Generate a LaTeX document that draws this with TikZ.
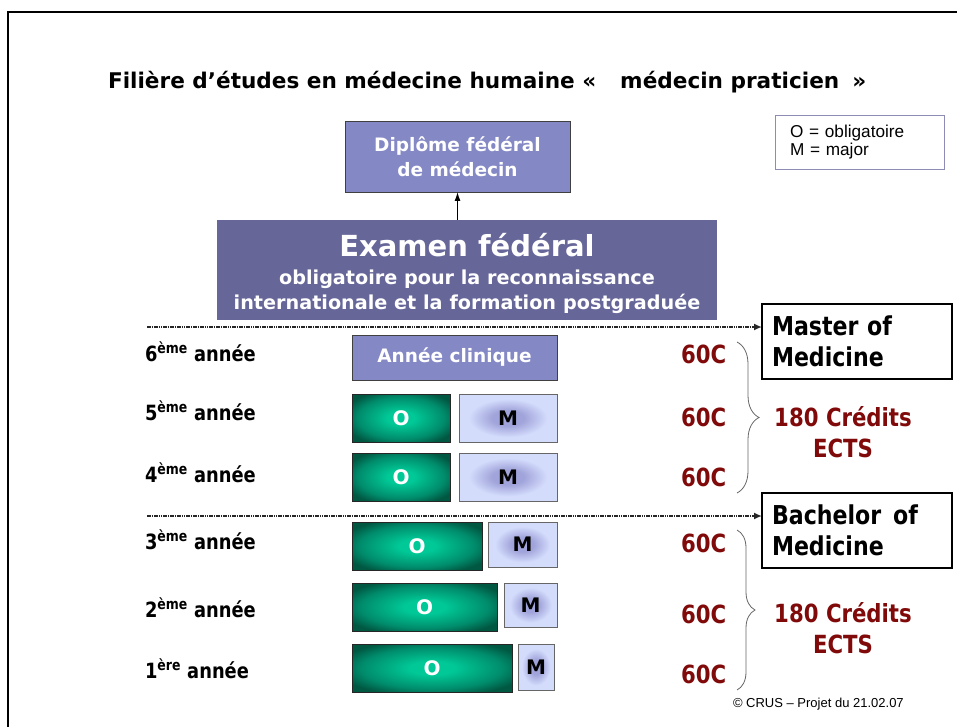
\documentclass[tikz,border=0pt]{standalone}
\usepackage{fontspec}
\setmainfont{DejaVu Sans}
\newfontfamily\arialfont{Liberation Sans}
\newfontfamily\narrowfont{DejaVu Sans}[FakeStretch=0.85]
\usetikzlibrary{arrows.meta,decorations.pathreplacing}

\definecolor{lavbox}{RGB}{132,136,196}
\definecolor{exambox}{RGB}{103,102,153}
\definecolor{credred}{RGB}{128,10,10}
\definecolor{ogreendark}{RGB}{0,88,66}
\definecolor{ogreenmid}{RGB}{0,140,108}
\definecolor{ogreenlight}{RGB}{0,200,150}
\definecolor{mlavdark}{RGB}{160,164,218}
\definecolor{mlavlight}{RGB}{212,220,252}
\definecolor{legendline}{RGB}{140,140,180}

\pgfdeclareradialshading{oglow}{\pgfpoint{0bp}{0bp}}{color(0bp)=(ogreenlight); color(7bp)=(ogreenlight);
  color(22bp)=(ogreenmid); color(30bp)=(ogreendark); color(50bp)=(ogreendark)}
\pgfdeclareradialshading{mglow}{\pgfpoint{0bp}{0bp}}{color(0bp)=(mlavdark); color(8bp)=(mlavdark);
  color(20bp)=(mlavlight); color(50bp)=(mlavlight)}

\begin{document}
\begin{tikzpicture}[x=1pt,y=-1pt,inner sep=0pt,outer sep=0pt,
                    lav box/.style={draw=black!75,fill=lavbox,text=white,align=center,anchor=north west,
                                    font=\bfseries\fontsize{18.5}{25}\selectfont},
                    o box/.style={draw=black!85,shading=oglow,text=white,
                                  anchor=north west,minimum height=48pt,font=\bfseries\fontsize{20}{20}\selectfont},
                    m box/.style={draw=black!60,shading=mglow,
                                  anchor=north west,font=\bfseries\fontsize{20}{20}\selectfont},
                    year/.style={anchor=base west,font=\narrowfont\bfseries\fontsize{21}{24}\selectfont},
                    credit/.style={anchor=base west,text=credred,font=\narrowfont\bfseries\fontsize{25}{26}\selectfont},
                    ects/.style={text=credred,align=center,font=\narrowfont\bfseries\fontsize{25}{31}\selectfont},
                    degree box/.style={draw=black,line width=1.2pt,fill=white,anchor=north west,
                                       text width=170pt,align=left,inner xsep=10pt,
                                       font=\narrowfont\bfseries\fontsize{26}{31}\selectfont},
                    dotted arrow/.style={-{Latex[length=8pt,width=7pt]},line width=2pt,black!85,
                                         dash pattern=on 1.6pt off 0.7pt},
                    credit brace/.style={decorate,draw=black!60,line width=0.8pt}]
\useasboundingbox (0,0) rectangle (957,727);
\draw[line width=2.5pt] (8,740) -- (8,12) -- (970,12);

% title and legend
\node[anchor=base west,font=\bfseries\fontsize{21.6}{24}\selectfont] (title) at (108,89)
  {Filière d’études en médecine humaine «\hspace{24pt}médecin praticien\hspace{13pt}»};
\node[draw=legendline,line width=0.8pt,anchor=north west,minimum width=169pt,minimum height=54pt,
      text width=139pt,align=left,font=\arialfont\fontsize{17.2}{18.5}\selectfont] (legend) at (775,115)
  {O = obligatoire\\M = major};

% diploma and exam
\node[lav box,minimum width=225pt,minimum height=71pt] (dipl) at (345,121) {Diplôme fédéral\\de médecin};
\node[fill=exambox,text=white,align=center,anchor=north west,minimum width=500pt,minimum height=100pt,
      font=\bfseries\fontsize{19.2}{25}\selectfont] (exam) at (217,220)
  {\rule{0pt}{31pt}{\fontsize{29}{30}\selectfont Examen fédéral}\\[3pt]
   obligatoire pour la reconnaissance\\
   internationale et la\hspace{7pt}formation\hspace{7pt}postgraduée};
\draw[-{Latex[length=9pt,width=6pt]},line width=1.2pt] (dipl.south |- exam.north) -- (dipl.south);

% degrees
\node[degree box,minimum width=189pt,minimum height=75pt] (master) at (762,304) {Master of\\Medicine};
\node[degree box,minimum width=181pt,minimum height=75pt] (bachelor) at (762,493) {Bachelor\hspace{12pt}of\\Medicine};
\coordinate (mstart) at (147,327);
\coordinate (bstart) at (147,516);
\draw[dotted arrow] (mstart) -- (mstart -| master.west);
\draw[dotted arrow] (bstart) -- (bstart -| bachelor.west);

% years
\node[year] (y6) at (145,361) {6\textsuperscript{ème} année};
\node[year] (y5) at (145,420) {5\textsuperscript{ème} année};
\node[year] (y4) at (145,482) {4\textsuperscript{ème} année};
\node[year] (y3) at (145,549) {3\textsuperscript{ème} année};
\node[year] (y2) at (145,617) {2\textsuperscript{ème} année};
\node[year] (y1) at (145,678) {1\textsuperscript{ère} année};

% courses
\node[lav box,minimum width=205pt,minimum height=45pt] (clin) at (352,335) {Année clinique};
\node[o box,minimum width=98pt] (o5) at (352,394) {O};
\node[m box,minimum width=98pt,minimum height=48pt] (m5) at (459,394) {M};
\node[o box,minimum width=98pt] (o4) at (352,453) {O};
\node[m box,minimum width=98pt,minimum height=48pt] (m4) at (459,453) {M};
\node[o box,minimum width=130pt] (o3) at (352,522) {O};
\node[m box,minimum width=69pt,minimum height=45pt] (m3) at (488,522) {M};
\node[o box,minimum width=145pt] (o2) at (352,583) {O};
\node[m box,minimum width=53pt,minimum height=44pt] (m2) at (504,583) {M};
\node[o box,minimum width=160pt] (o1) at (352,644) {O};
\node[m box,minimum width=36pt,minimum height=46pt] (m1) at (518,644) {M};

% credits
\node[credit] (c6) at (681,363) {60C};
\node[credit] (c5) at (681,426) {60C};
\node[credit] (c4) at (681,486) {60C};
\node[credit] (c3) at (681,552) {60C};
\node[credit] (c2) at (681,623) {60C};
\node[credit] (c1) at (681,683) {60C};
\coordinate (mtop) at (737,342);
\coordinate (mbot) at (737,493);
\coordinate (btop) at (737,530);
\coordinate (bbot) at (737,690);
\draw[credit brace,decoration={brace,amplitude=22pt}] (mtop) -- (mbot);
\draw[credit brace,decoration={brace,amplitude=18pt}] (btop) -- (bbot);
\node[ects] (ects m) at (843,432) {180 Crédits\\ECTS};
\node[ects] (ects b) at (843,628) {180 Crédits\\ECTS};

\node[anchor=base west,font=\arialfont\fontsize{13}{16}\selectfont] (copy) at (733,707)
  {© CRUS – Projet du 21.02.07};
\end{tikzpicture}
\end{document}
